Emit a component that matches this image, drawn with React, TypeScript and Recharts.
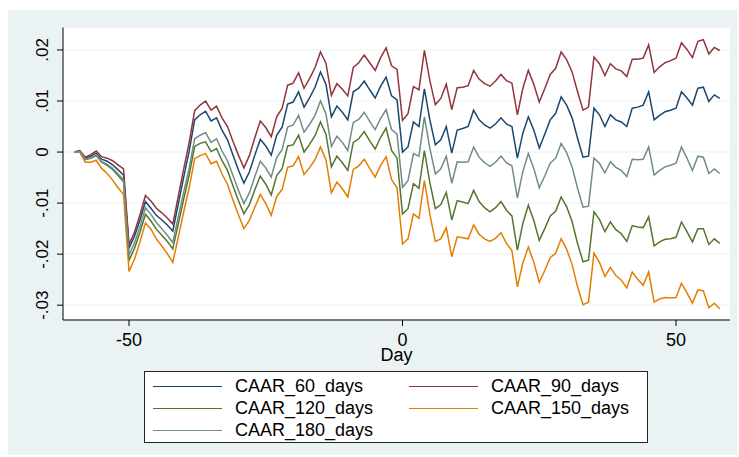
import React from "react";
import { LineChart, Line, XAxis, YAxis, CartesianGrid } from "recharts";

// Event window, in trading days around the announcement
const days: number[] = [];
for (let d = -60; d <= 58; d++) days.push(d);

// Cumulative average abnormal returns, in units of 0.0001
const caar60 = [
  0, 2, -12, -8, -2, -14, -18, -25, -35, -45,
  -188, -165, -133, -97, -110, -124, -133, -143, -155, -102,
  -49, 2, 63, 73, 80, 61, 67, 43, 24, -6,
  -35, -61, -39, -6, 25, 12, -6, 33, 49, 94,
  98, 118, 88, 106, 127, 157, 133, 69, 90, 78,
  63, 118, 125, 139, 122, 106, 129, 147, 110, 102,
  0, 10, 59, 50, 124, 63, 14, 24, 50, -2,
  43, 46, 50, 82, 63, 53, 47, 55, 67, 55,
  50, -12, 37, 69, 43, 8, 35, 63, 76, 108,
  92, 67, 27, -10, -8, 86, 73, 50, 73, 63,
  59, 50, 86, 88, 92, 118, 63, 72, 79, 82,
  86, 118, 106, 92, 125, 127, 99, 112, 105,
];

const caar90 = [
  0, 3, -10, -5, 2, -9, -12, -17, -25, -33,
  -181, -157, -123, -85, -96, -110, -119, -129, -141, -87,
  -33, 19, 81, 92, 100, 82, 90, 67, 50, 21,
  -6, -31, -7, 28, 61, 48, 30, 69, 86, 131,
  135, 155, 125, 144, 165, 196, 174, 111, 134, 123,
  110, 166, 175, 190, 175, 160, 185, 204, 169, 162,
  62, 75, 128, 122, 199, 140, 93, 105, 133, 83,
  126, 127, 130, 160, 143, 134, 129, 139, 152, 140,
  135, 73, 125, 160, 133, 98, 124, 152, 164, 196,
  181, 157, 118, 82, 88, 186, 173, 150, 173, 163,
  159, 148, 182, 182, 184, 210, 156, 167, 175, 179,
  184, 214, 201, 185, 217, 220, 192, 205, 199,
];

const caar120 = [
  0, 1, -15, -12, -7, -20, -26, -34, -46, -58,
  -212, -189, -157, -122, -135, -151, -163, -175, -190, -141,
  -92, -45, 11, 17, 20, 1, 7, -17, -36, -66,
  -95, -121, -103, -74, -47, -63, -84, -46, -32, 12,
  14, 33, 0, 15, 32, 59, 35, -29, -8, -21,
  -36, 19, 26, 40, 22, 6, 29, 47, 3, -12,
  -121, -111, -62, -71, 3, -60, -111, -103, -79, -133,
  -95, -98, -101, -75, -97, -109, -117, -109, -97, -114,
  -125, -192, -140, -104, -134, -173, -150, -125, -116, -88,
  -107, -136, -179, -215, -212, -117, -132, -156, -137, -152,
  -160, -175, -144, -147, -148, -127, -184, -176, -171, -170,
  -167, -137, -156, -176, -150, -150, -181, -170, -179,
];

const caar150 = [
  0, 0, -20, -20, -16, -32, -42, -55, -70, -83,
  -234, -210, -176, -139, -151, -170, -184, -199, -216, -167,
  -117, -70, -13, -7, -3, -23, -18, -43, -63, -94,
  -123, -150, -134, -108, -83, -101, -124, -87, -73, -30,
  -27, -9, -44, -31, -15, 10, -15, -80, -59, -72,
  -88, -34, -27, -14, -32, -49, -26, -9, -54, -70,
  -180, -170, -121, -130, -56, -122, -175, -170, -148, -205,
  -166, -168, -170, -143, -161, -170, -175, -169, -158, -179,
  -193, -264, -217, -186, -216, -255, -232, -207, -198, -170,
  -190, -220, -264, -299, -294, -198, -216, -244, -226, -242,
  -251, -266, -235, -249, -261, -235, -294, -288, -285, -286,
  -285, -257, -276, -296, -270, -272, -305, -296, -307,
];

const caar180 = [
  0, 1, -14, -11, -6, -19, -24, -32, -43, -55,
  -202, -178, -146, -109, -122, -138, -150, -163, -177, -127,
  -78, -31, 26, 33, 38, 19, 26, 2, -17, -46,
  -75, -101, -80, -48, -18, -31, -49, -11, 5, 49,
  53, 72, 39, 54, 72, 100, 75, 11, 31, 19,
  3, 58, 64, 78, 60, 44, 66, 83, 44, 35,
  -69, -56, -3, -8, 69, 7, -43, -33, -8, -61,
  -19, -20, -19, 10, -10, -21, -28, -20, -8, -21,
  -27, -90, -38, -3, -32, -70, -47, -22, -12, 17,
  -1, -29, -71, -108, -106, -12, -22, -41, -19, -30,
  -36, -48, -14, -15, -14, 10, -45, -36, -29, -26,
  -22, 10, -12, -36, -8, -10, -42, -33, -42,
];

const xTicks = [-50, 0, 50];
const yTicks = [-0.03, -0.02, -0.01, 0, 0.01, 0.02];

const series = [
  { key: "caar60", name: "CAAR_60_days", color: "#1a476f", values: caar60 },
  { key: "caar90", name: "CAAR_90_days", color: "#90353b", values: caar90 },
  { key: "caar120", name: "CAAR_120_days", color: "#55752f", values: caar120 },
  { key: "caar150", name: "CAAR_150_days", color: "#e37e00", values: caar150 },
  { key: "caar180", name: "CAAR_180_days", color: "#6e8e84", values: caar180 },
];

const rows = days.map((day, i) => {
  const row: Record<string, number> = { day };
  series.forEach((s) => {
    row[s.key] = s.values[i] / 10000;
  });
  return row;
});

const FONT = "'Liberation Sans', Arial, sans-serif";
const PANEL = "#eaf2f3";

// Stata-style labels: .02, 0, -.01
const fmtY = (v: number) => {
  if (Math.abs(v) < 1e-9) return "0";
  return (v < 0 ? "-" : "") + Math.abs(v).toFixed(2).replace(/^0/, "");
};

const XTick = (props: any) => {
  const { x, y, payload } = props;
  return (
    <text x={x} y={y + 18} textAnchor="middle" fontSize={18} fill="#000" fontFamily={FONT}>
      {payload.value}
    </text>
  );
};

const YTick = (props: any) => {
  const { x, y, payload } = props;
  return (
    <text
      transform={`translate(${x - 7},${y}) rotate(-90)`}
      textAnchor="middle"
      fontSize={17}
      fill="#000"
      fontFamily={FONT}
    >
      {fmtY(payload.value)}
    </text>
  );
};

const LegendBox = () => {
  const cell = (s: (typeof series)[number], left: number, top: number) => (
    <div
      key={s.key}
      style={{ position: "absolute", left, top, display: "flex", alignItems: "center", height: 22 }}
    >
      <div style={{ width: 69, height: 0, borderTop: `1.5px solid ${s.color}`, marginRight: 13 }} />
      <span style={{ fontSize: 18, fontFamily: FONT, color: "#000", lineHeight: "22px" }}>{s.name}</span>
    </div>
  );
  return (
    <div
      style={{
        position: "absolute",
        left: 144,
        top: 371,
        width: 502,
        height: 70,
        background: "#fff",
        border: "1px solid #222",
      }}
    >
      {cell(series[0], 8, 3)}
      {cell(series[1], 264, 3)}
      {cell(series[2], 8, 25)}
      {cell(series[3], 264, 25)}
      {cell(series[4], 8, 47)}
    </div>
  );
};

export default function App() {
  return (
    <div style={{ position: "absolute", left: 0, top: 0, width: 739, height: 457, background: "#fff" }}>
      <div style={{ position: "absolute", left: 8, top: 10, width: 729, height: 445, background: PANEL }} />
      <div style={{ position: "absolute", left: 0, top: 0 }}>
        <LineChart width={739} height={457} data={rows} margin={{ top: 27.5, right: 9, left: 0, bottom: 0 }}>
          <CartesianGrid vertical={false} stroke={PANEL} strokeWidth={1} fill="#ffffff" />
          <XAxis
            dataKey="day"
            type="number"
            domain={[-62.07, 59.87]}
            ticks={xTicks}
            allowDataOverflow
            height={137}
            tickSize={6}
            tick={<XTick />}
            axisLine={{ stroke: "#000" }}
            tickLine={{ stroke: "#000" }}
            label={{ value: "Day", position: "insideTop", offset: 28, fontSize: 18, fill: "#000", fontFamily: FONT }}
          />
          <YAxis
            type="number"
            domain={[-0.0329, 0.0244]}
            ticks={yTicks}
            allowDataOverflow
            width={63}
            tickSize={6}
            tick={<YTick />}
            axisLine={{ stroke: "#000" }}
            tickLine={{ stroke: "#000" }}
          />
          {series.map((s) => (
            <Line
              key={s.key}
              type="linear"
              dataKey={s.key}
              name={s.name}
              stroke={s.color}
              strokeWidth={1.5}
              dot={false}
              isAnimationActive={false}
            />
          ))}
        </LineChart>
      </div>
      <LegendBox />
    </div>
  );
}
